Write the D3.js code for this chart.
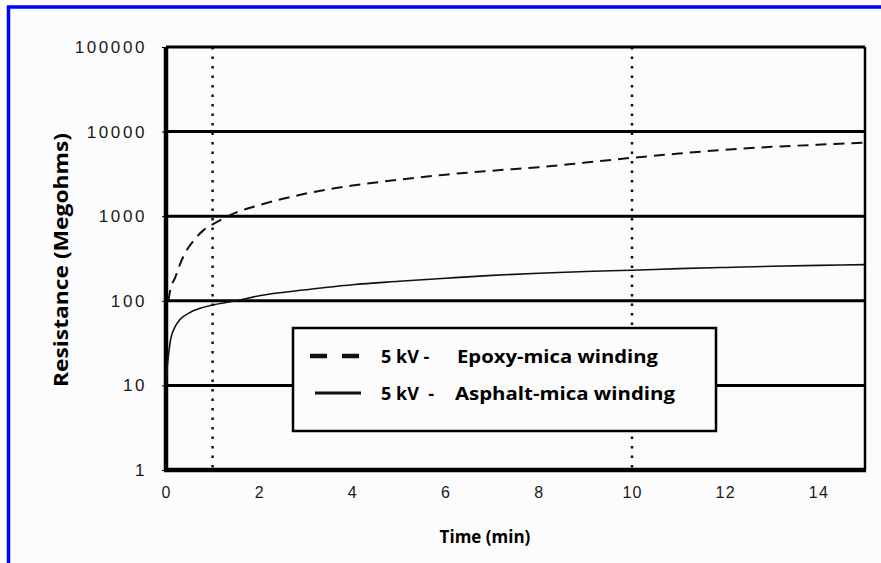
<!DOCTYPE html>
<html>
<head>
<meta charset="utf-8">
<script src="https://cdn.jsdelivr.net/npm/d3@7"></script>
<style>
  html, body { margin: 0; padding: 0; background: #fcfcfc; }
  svg { display: block; }
  .tick text { fill: #1a1a1a; }
</style>
</head>
<body>
<svg id="chart" width="881" height="563"></svg>
<script>
// time in minutes
const epoxyTime  = [0.05, 0.1, 0.2, 0.3, 0.45, 0.6, 0.8, 1, 1.5, 2, 3, 4, 5, 6, 7, 8, 9, 10, 11, 12, 13, 14, 15];
const epoxyMohm  = [100, 140, 190, 270, 400, 520, 680, 800, 1100, 1350, 1850, 2300, 2700, 3100, 3450, 3800, 4300, 4900, 5500, 6100, 6600, 7000, 7400];
const asphaltTime = [0, 0.02, 0.05, 0.1, 0.2, 0.3, 0.5, 0.75, 1, 1.5, 2, 3, 4, 5, 6, 7, 8, 9, 10, 11, 12, 13, 14, 15];
const asphaltMohm = [10, 15, 22, 35, 50, 60, 72, 82, 89, 100, 115, 135, 155, 170, 185, 200, 212, 222, 230, 240, 248, 256, 262, 268];

const yTicks = [1, 10, 100, 1000, 10000, 100000];
const xTicks = [0, 2, 4, 6, 8, 10, 12, 14];
const markerTimes = [1, 10];
const legendLabels = [
  { kv: "5 kV -", name: "Epoxy-mica winding", dashed: true },
  { kv: "5 kV  -", name: "Asphalt-mica winding", dashed: false }
];

const svg = d3.select("#chart");

// scanned page frame
svg.append("rect")
  .attr("x", 8.5).attr("y", 7)
  .attr("width", 920).attr("height", 620)
  .attr("fill", "none")
  .attr("stroke", "#0000ff")
  .attr("stroke-width", 3.5);

const x = d3.scaleLinear().domain([0, 15]).range([166, 865]);
const y = d3.scaleLog().domain([1, 100000]).range([470, 47]);

// dotted markers at 1 and 10 minutes
svg.append("g").selectAll("line")
  .data(markerTimes)
  .enter().append("line")
    .attr("x1", d => x(d)).attr("x2", d => x(d))
    .attr("y1", y(100000)).attr("y2", y(1))
    .attr("stroke", "#111")
    .attr("stroke-width", 2.5)
    .attr("stroke-dasharray", "2.5,7");

// decade grid
svg.append("g").selectAll("line")
  .data(yTicks.slice(1, -1))
  .enter().append("line")
    .attr("x1", x(0)).attr("x2", x(15))
    .attr("y1", d => y(d)).attr("y2", d => y(d))
    .attr("stroke", "#000")
    .attr("stroke-width", 3);

// frame of the plot
const frame = [
  { x1: x(0), y1: y(100000), x2: x(15), y2: y(100000), w: 3 },
  { x1: x(15), y1: y(100000), x2: x(15), y2: y(1), w: 2.5 },
  { x1: x(0), y1: y(100000), x2: x(0), y2: y(1), w: 4.5 },
  { x1: x(0) - 2, y1: y(1), x2: x(15) + 1, y2: y(1), w: 4.5 }
];
svg.append("g").selectAll("line")
  .data(frame)
  .enter().append("line")
    .attr("x1", d => d.x1).attr("y1", d => d.y1)
    .attr("x2", d => d.x2).attr("y2", d => d.y2)
    .attr("stroke", "#000")
    .attr("stroke-width", d => d.w);

// axes (labels only, the frame is drawn above)
const yAxis = svg.append("g")
  .attr("transform", `translate(${x(0)},0)`)
  .call(d3.axisLeft(y).tickValues(yTicks).tickFormat(d3.format("d")).tickSize(4).tickPadding(15));
yAxis.select(".domain").remove();
yAxis.selectAll("text")
  .attr("font-family", "Liberation Sans, Arial, sans-serif")
  .attr("font-size", 17)
  .attr("letter-spacing", 2.6);

const xAxis = svg.append("g")
  .attr("transform", `translate(0,${y(1)})`)
  .call(d3.axisBottom(x).tickValues(xTicks).tickSize(0).tickPadding(17));
xAxis.select(".domain").remove();
xAxis.selectAll("text")
  .attr("font-family", "Liberation Sans, Arial, sans-serif")
  .attr("font-size", 16)
  .attr("letter-spacing", 1.2);

// curves
const line = d3.line()
  .x(d => x(d[0]))
  .y(d => y(d[1]))
  .curve(d3.curveMonotoneX);

svg.append("path")
  .datum(d3.zip(epoxyTime, epoxyMohm))
  .attr("d", line)
  .attr("fill", "none")
  .attr("stroke", "#111")
  .attr("stroke-width", 2)
  .attr("stroke-dasharray", "11,7");

svg.append("path")
  .datum(d3.zip(asphaltTime, asphaltMohm))
  .attr("d", line)
  .attr("fill", "none")
  .attr("stroke", "#111")
  .attr("stroke-width", 1.6);

// legend
const legend = svg.append("g");
legend.append("rect")
  .attr("x", 293).attr("y", 328)
  .attr("width", 423).attr("height", 103)
  .attr("fill", "#fcfcfc")
  .attr("stroke", "#000")
  .attr("stroke-width", 2.5);

const rows = legend.selectAll("g.row")
  .data(legendLabels)
  .enter().append("g")
    .attr("class", "row")
    .attr("transform", (d, i) => `translate(0,${356 + i * 37})`);

rows.append("line")
  .attr("x1", d => d.dashed ? 310 : 315)
  .attr("x2", 361)
  .attr("stroke", "#111")
  .attr("stroke-width", d => d.dashed ? 4.5 : 3)
  .attr("stroke-dasharray", d => d.dashed ? "17,15" : null);

rows.append("text")
  .attr("x", 381).attr("y", 7)
  .attr("font-family", "Open Sans, sans-serif")
  .attr("font-weight", "bold")
  .attr("font-size", 18)
  .attr("xml:space", "preserve")
  .style("white-space", "pre")
  .text(d => d.kv);

rows.append("text")
  .attr("x", (d, i) => i === 0 ? 457 : 455).attr("y", 7)
  .attr("font-family", "Open Sans, sans-serif")
  .attr("font-weight", "bold")
  .attr("font-size", 18)
  .attr("textLength", (d, i) => i === 0 ? 201 : 220)
  .attr("lengthAdjust", "spacingAndGlyphs")
  .text(d => d.name);

// axis titles
svg.append("text")
  .attr("transform", "translate(68,260) rotate(-90)")
  .attr("text-anchor", "middle")
  .attr("font-family", "Open Sans, sans-serif")
  .attr("font-weight", "bold")
  .attr("font-size", 19)
  .attr("textLength", 254)
  .attr("lengthAdjust", "spacingAndGlyphs")
  .text("Resistance (Megohms)");

svg.append("text")
  .attr("x", 485).attr("y", 543)
  .attr("text-anchor", "middle")
  .attr("font-family", "Open Sans, sans-serif")
  .attr("font-weight", "bold")
  .attr("font-size", 17)
  .text("Time (min)");
</script>
</body>
</html>
